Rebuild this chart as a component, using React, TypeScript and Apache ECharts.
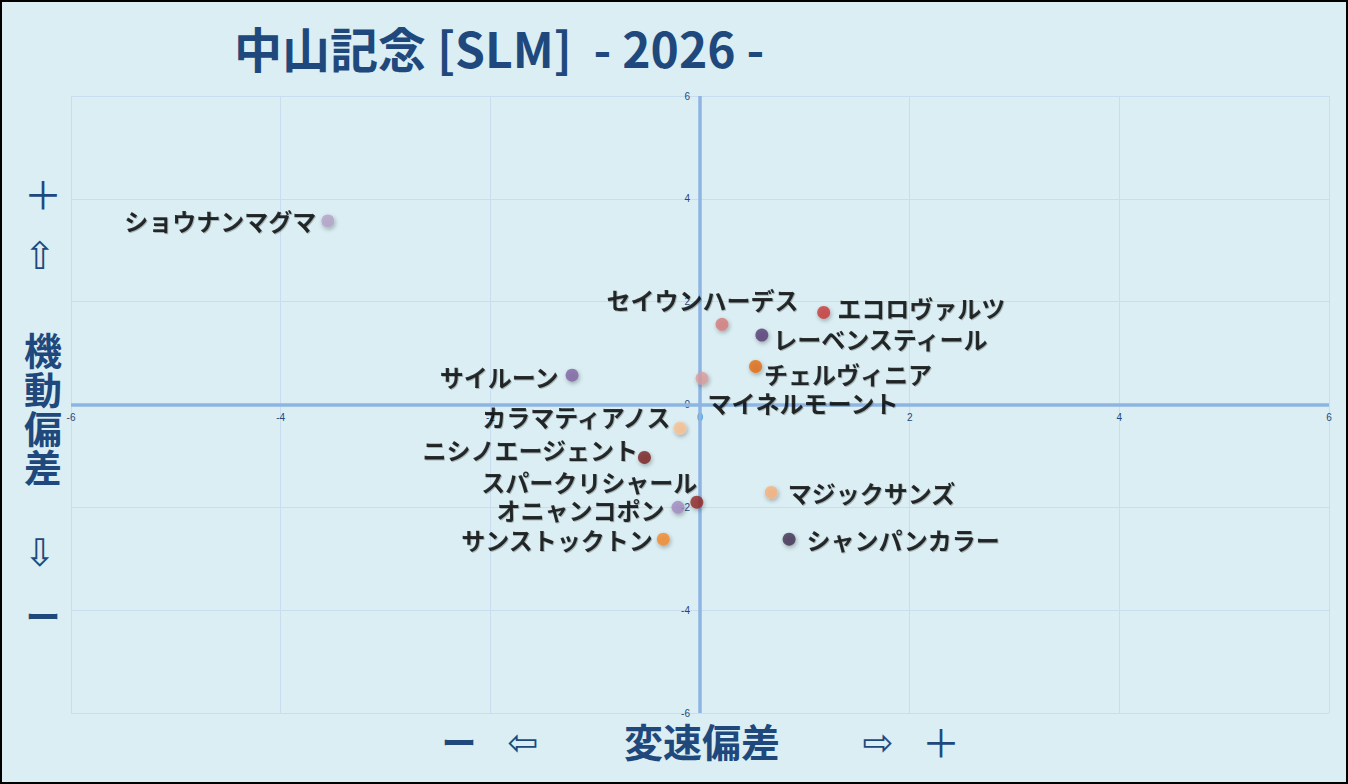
import React, { useEffect, useRef } from "react";
import * as echarts from "echarts";

// ---- data ----
const horseNames = [
  "ショウナンマグマ",
  "セイウンハーデス",
  "エコロヴァルツ",
  "レーベンスティール",
  "チェルヴィニア",
  "マイネルモーント",
  "サイルーン",
  "カラマティアノス",
  "ニシノエージェント",
  "スパークリシャール",
  "オニャンコポン",
  "サンストックトン",
  "マジックサンズ",
  "シャンパンカラー",
];
// 変速偏差 (x)
const speedDeviation = [-3.55, 0.21, 1.18, 0.59, 0.53, 0.02, -1.22, -0.19, -0.53, -0.03, -0.21, -0.35, 0.68, 0.85];
// 機動偏差 (y)
const mobilityDeviation = [3.57, 1.56, 1.79, 1.35, 0.74, 0.51, 0.57, -0.46, -1.03, -1.9, -2.0, -2.62, -1.71, -2.62];
const pointColors = [
  "#B3A2C7",
  "#D67B7B",
  "#C83A3A",
  "#553C74",
  "#E36C09",
  "#DA9C9C",
  "#8064A2",
  "#FAC090",
  "#7A1E1E",
  "#922626",
  "#A28BC0",
  "#F28A2A",
  "#F8B07A",
  "#3F3151",
];
const axisMin = -6;
const axisMax = 6;
const axisStep = 2;

const titleText = "中山記念 [SLM]  - 2026 -";
const xAxisTitle = "変速偏差";
const yAxisTitle = "機動偏差";

// ---- label layout (not data) ----
const labelSide = ["left", "left", "right", "right", "right", "right", "left", "left", "left", "left", "left", "left", "right", "right"];
const labelOffset: number[][] = [
  [-5, 0],
  [83, -25],
  [7, -5],
  [5, 3],
  [2, 7],
  [-1, 24],
  [-7, 1],
  [-3, -12],
  [0, -8],
  [7, -21],
  [-7, 2],
  [-4, 0],
  [10, 0],
  [11, 0],
];

const NAVY = "#1F497D";
const CJK = "'Noto Sans CJK JP', 'Noto Sans', sans-serif";
const ARROW = "'DejaVu Sans', sans-serif";

export default function App() {
  const ref = useRef<HTMLDivElement>(null);
  useEffect(() => {
    if (!ref.current) return;
    const chart = echarts.init(ref.current, undefined, { renderer: "svg" });

    const seriesData = horseNames.map((name, i) => ({
      name,
      value: [speedDeviation[i], mobilityDeviation[i]],
      itemStyle: { color: pointColors[i] },
      label: {
        show: true,
        position: labelSide[i],
        distance: 0,
        offset: labelOffset[i],
        formatter: "{b}",
      },
    }));

    const t = (text: string, x: number, y: number, size: number, family = CJK, weight = "bold", extra: any = {}) => ({
      type: "text",
      x,
      y,
      z: 10,
      style: {
        text,
        fill: NAVY,
        font: `${weight} ${size}px ${family}`,
        align: "center",
        verticalAlign: "middle",
        ...extra,
      },
    });

    const axisCommon = {
      type: "value",
      min: axisMin,
      max: axisMax,
      interval: axisStep,
      axisLine: { show: false, onZero: false },
      axisTick: { show: false },
      splitLine: { show: true, lineStyle: { color: "#C8DDF0", width: 1 } },
    };

    chart.setOption({
      animation: false,
      backgroundColor: "#DAEEF3",
      grid: { left: 71, right: 19, top: 96, bottom: 71, containLabel: false },
      xAxis: {
        ...axisCommon,
        position: "bottom",
        axisLabel: { color: NAVY, fontSize: 10, margin: -301, fontFamily: "'Liberation Sans', sans-serif" },
      },
      yAxis: {
        ...axisCommon,
        position: "left",
        axisLabel: { color: NAVY, fontSize: 10, margin: -619, fontFamily: "'Liberation Sans', sans-serif" },
      },
      series: [
        {
          type: "scatter",
          symbol: "circle",
          symbolSize: 13,
          data: seriesData,
          itemStyle: {
            shadowBlur: 4,
            shadowColor: "rgba(0,0,0,0.35)",
            shadowOffsetX: 1,
            shadowOffsetY: 2,
          },
          label: {
            color: "#000",
            fontSize: 24,
            fontWeight: "bold",
            fontFamily: CJK,
            textShadowColor: "rgba(0,0,0,0.3)",
            textShadowBlur: 1,
            textShadowOffsetX: 1,
            textShadowOffsetY: 1,
          },
          markLine: {
            silent: true,
            symbol: "none",
            label: { show: false },
            lineStyle: { color: "#8DB4E2", width: 3.5, type: "solid" },
            data: [{ xAxis: 0 }, { yAxis: 0 }],
            z: 1,
          },
          z: 5,
        },
      ],
      graphic: [
        {
          type: "rect",
          z: 20,
          silent: true,
          shape: { x: 1, y: 1, width: 1346, height: 782 },
          style: { fill: "none", stroke: "#000", lineWidth: 2 },
        },
        t(titleText, 234, 47, 48, CJK, "bold", { align: "left" }),
        // y axis title
        t("＋", 43, 192, 38, CJK, "normal"),
        t("⇧", 40, 256, 38, ARROW, "normal"),
        t(yAxisTitle.split("").join("\n"), 43, 407, 38, CJK, "bold", { lineHeight: 39 }),
        t("⇩", 40, 553, 38, ARROW, "normal"),
        t("ー", 43, 614, 35),
        // x axis title
        t("ー", 459, 740, 35),
        t("⇦", 523, 742, 37, ARROW, "normal"),
        t(xAxisTitle, 702, 740, 39),
        t("⇨", 878, 742, 37, ARROW, "normal"),
        t("＋", 941, 740, 38, CJK, "normal"),
      ],
    });
    return () => chart.dispose();
  }, []);

  return (
    <div style={{ position: "fixed", left: 0, top: 0, width: 1348, height: 784 }}>
      <div ref={ref} style={{ width: 1348, height: 784 }} />
    </div>
  );
}
